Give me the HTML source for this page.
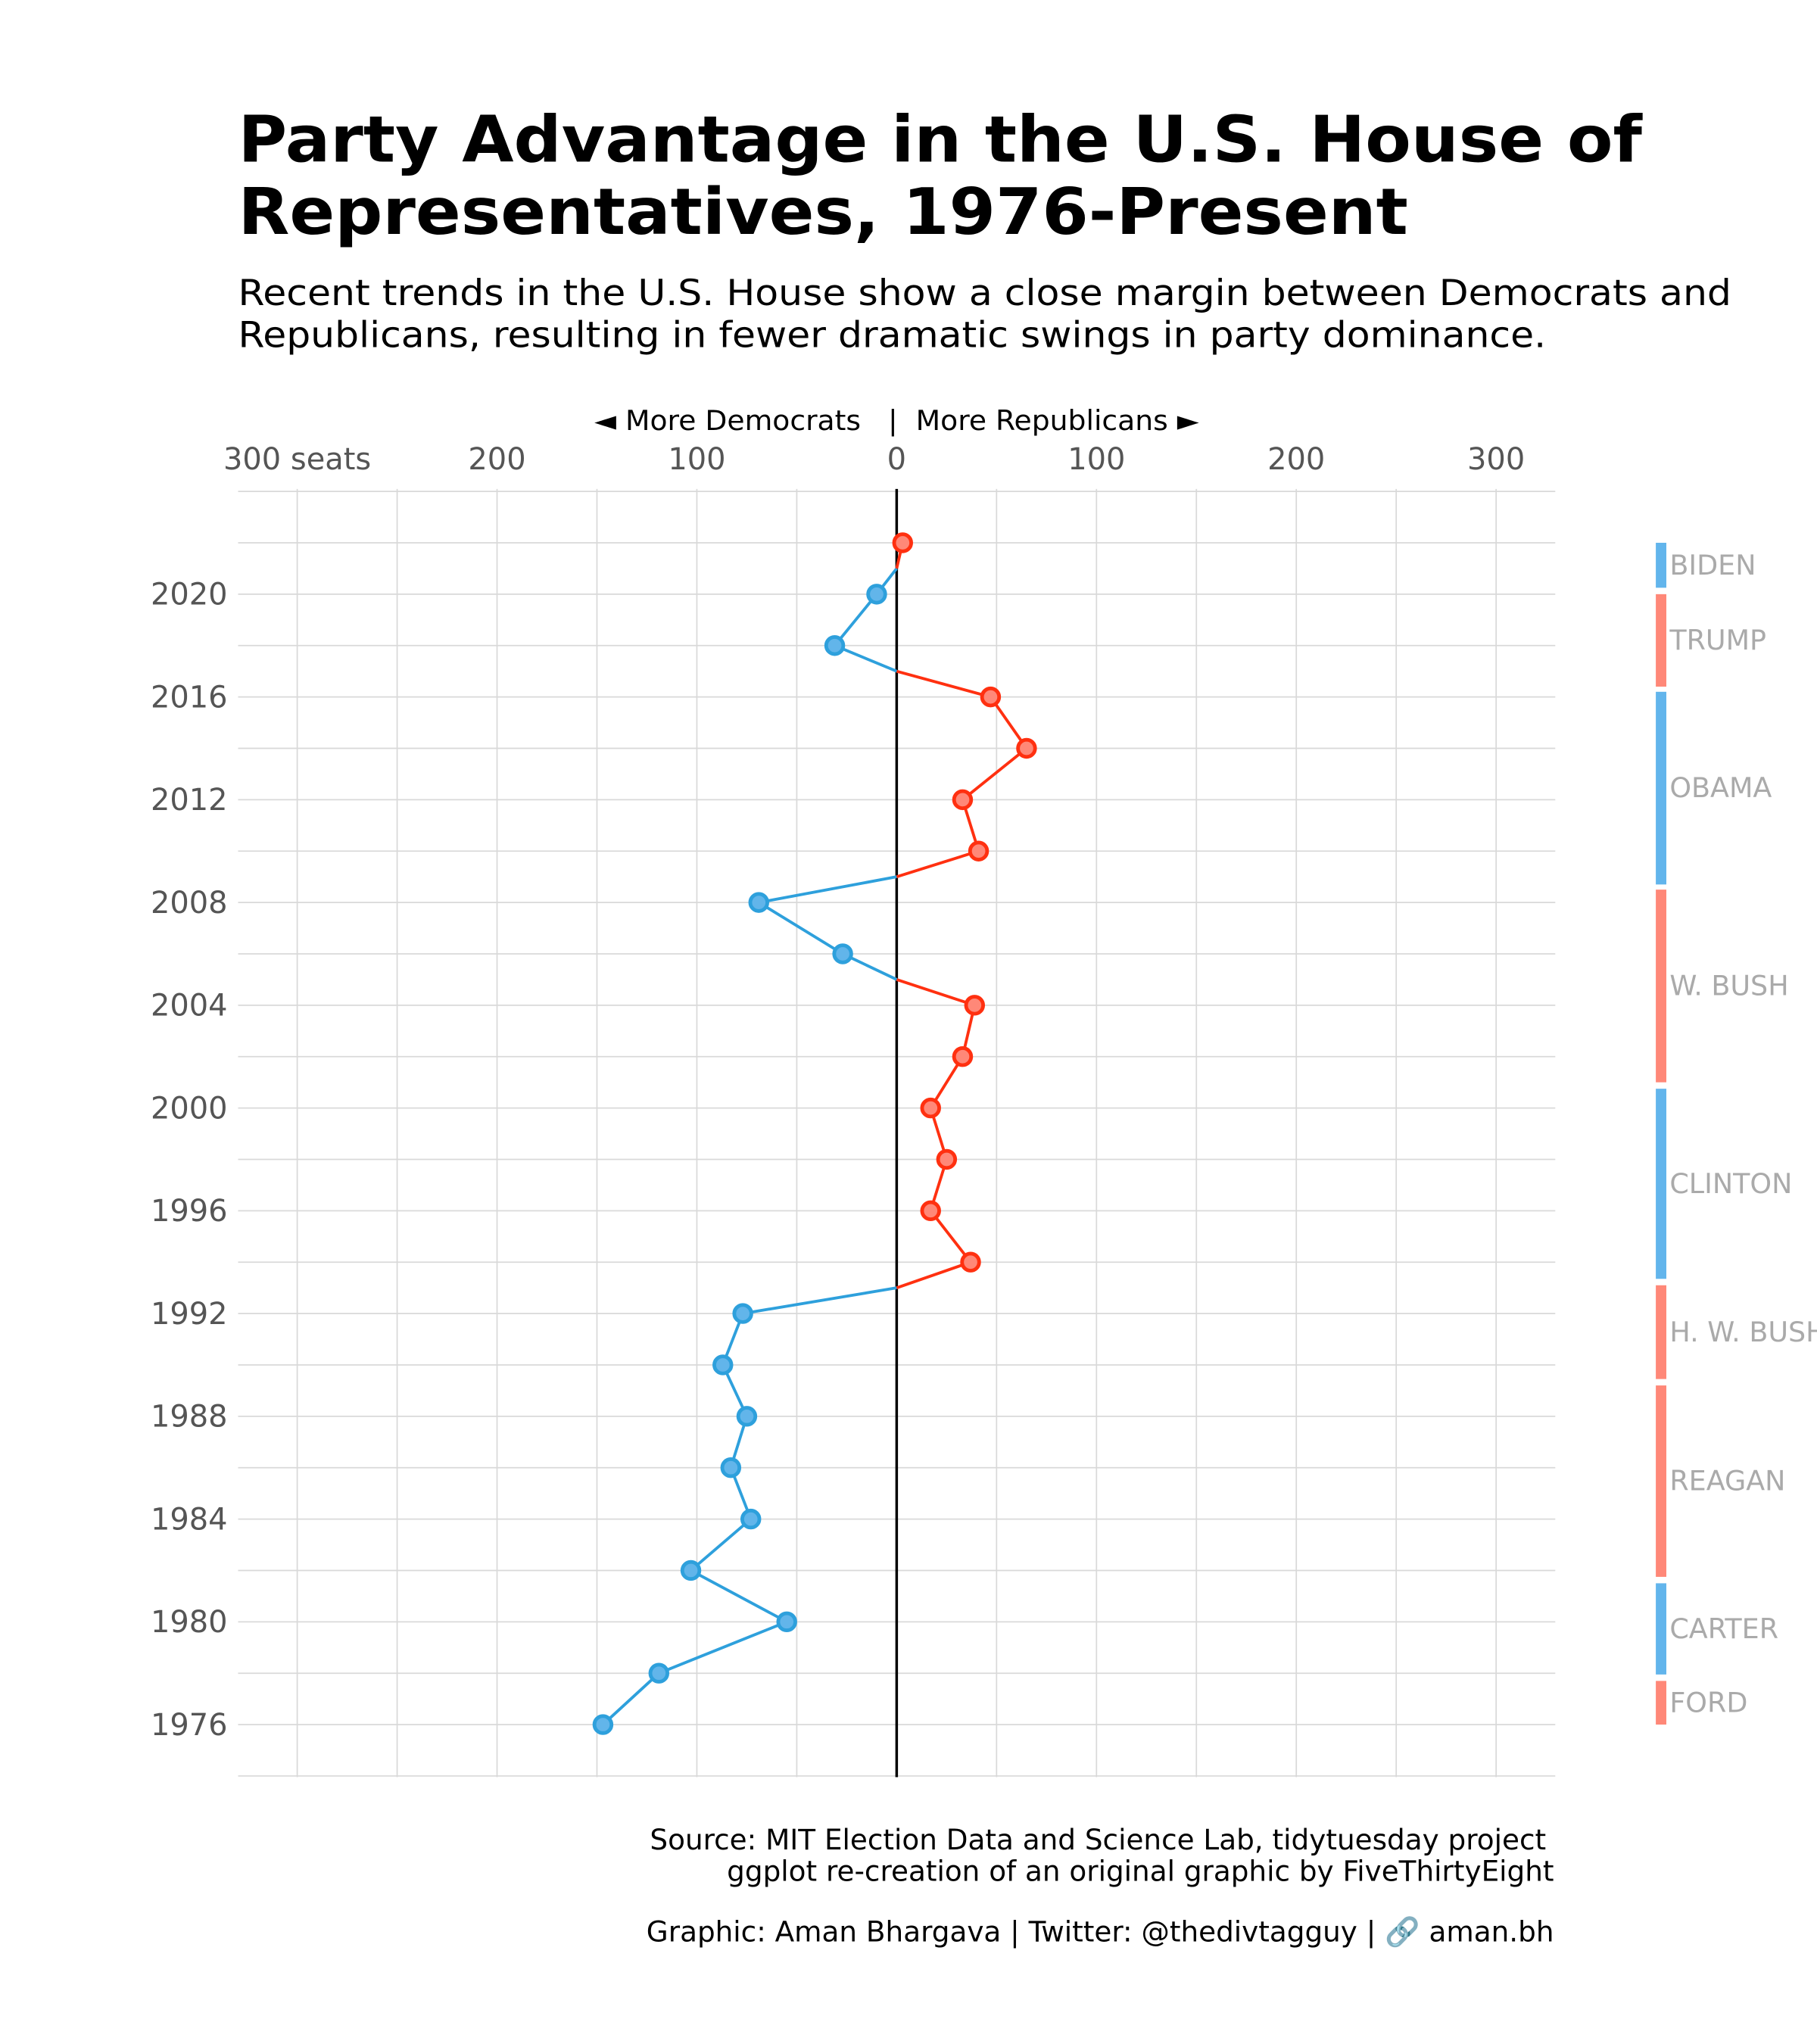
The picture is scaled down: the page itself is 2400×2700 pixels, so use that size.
<!DOCTYPE html>
<html><head><meta charset="utf-8"><style>html,body{margin:0;padding:0;background:#fff}svg{display:block}text{font-family:"DejaVu Sans","Liberation Sans",sans-serif}</style></head>
<body>
<svg id="chart" width="2400" height="2700" viewBox="0 0 1382 1555" xmlns="http://www.w3.org/2000/svg">
<rect width="1382" height="1555" fill="#fff"/>
<text x="181" y="123" font-size="49" font-weight="bold" textLength="1068" lengthAdjust="spacingAndGlyphs">Party Advantage in the U.S. House of</text>
<text x="181" y="178" font-size="49" font-weight="bold" textLength="890" lengthAdjust="spacingAndGlyphs">Representatives, 1976-Present</text>
<text x="181" y="232" font-size="27" textLength="1136" lengthAdjust="spacingAndGlyphs">Recent trends in the U.S. House show a close margin between Democrats and</text>
<text x="181" y="264" font-size="27" textLength="995" lengthAdjust="spacingAndGlyphs">Republicans, resulting in fewer dramatic swings in party dominance.</text>
<text x="452" y="327" font-size="21" textLength="460" lengthAdjust="spacingAndGlyphs" xml:space="preserve">◄ More Democrats   |  More Republicans ►</text>
<g id="grid"></g>
<g id="axes"></g>
<g id="lines"></g>
<g id="points"></g>
<g id="pres"></g>
<text x="1176" y="1407" font-size="21.5" text-anchor="end">Source: MIT Election Data and Science Lab, tidytuesday project</text>
<text x="1182" y="1431" font-size="21.5" text-anchor="end">ggplot re-creation of an original graphic by FiveThirtyEight</text>
<text x="1182" y="1477" font-size="21.5" text-anchor="end">Graphic: Aman Bhargava | Twitter: @thedivtagguy | 🔗 aman.bh</text>
</svg>
<script>
const years = [1976,1978,1980,1982,1984,1986,1988,1990,1992,1994,1996,1998,2000,2002,2004,2006,2008,2010,2012,2014,2016,2018,2020,2022];
const margins = [-147,-119,-55,-103,-73,-83,-75,-87,-77,37,17,25,17,33,39,-27,-69,41,33,65,47,-31,-10,3];
const xTicks = [-300,-200,-100,0,100,200,300];
const xTickLabels = ["300 seats","200","100","0","100","200","300"];
const yTicks = [1976,1980,1984,1988,1992,1996,2000,2004,2008,2012,2016,2020];
const presidents = ["FORD","CARTER","REAGAN","H. W. BUSH","CLINTON","W. BUSH","OBAMA","TRUMP","BIDEN"];
const presStart = [1976,1977.95,1981.75,1989.45,1993.35,2001,2008.7,2016.4,2020.25];
const presEnd = [1977.7,1981.5,1989.2,1993.1,2000.75,2008.5,2016.2,2020,2022];
const presParty = ["R","D","R","R","D","R","D","R","D"];

const NS="http://www.w3.org/2000/svg";
const X0=682, XS=1.52, Y0=1312, YS=19.545;
const x=v=>X0+v*XS, y=yr=>Y0-(yr-1976)*YS;
function mk(tag,attrs,parent){const e=document.createElementNS(NS,tag);for(const k in attrs)e.setAttribute(k,attrs[k]);document.getElementById(parent).appendChild(e);return e;}

for(let v=-300;v<=300;v+=50){const l=mk('line',{x1:x(v),x2:x(v),y1:372,y2:1352,stroke:'#d9d9d9','stroke-width':1},'grid');

}
for(let yr=1974;yr<=2024;yr+=2){const l=mk('line',{x1:181,x2:1183,y1:y(yr),y2:y(yr),stroke:'#d9d9d9','stroke-width':1},'grid');

}
const zl=mk('line',{x1:x(0),x2:x(0),y1:372,y2:1352,stroke:'#000','stroke-width':2},'axes');


xTicks.forEach((v,i)=>{const t=mk('text',{x:x(v),y:357,'font-size':23,fill:'#555','text-anchor':'middle'},'axes');t.textContent=xTickLabels[i];

});
yTicks.forEach(yr=>{const t=mk('text',{x:173,y:y(yr)+8,'font-size':23,fill:'#555','text-anchor':'end'},'axes');t.textContent=yr;

});

const BL='#2ea0dc', RL='#ff3010';
for(let i=0;i<years.length-1;i++){
  const a=margins[i],b=margins[i+1],ya=years[i],yb=years[i+1];
  if((a<0)===(b<0)){
    const l=mk('line',{x1:x(a),y1:y(ya),x2:x(b),y2:y(yb),stroke:a<0?BL:RL,'stroke-width':2.2},'lines');
    
    
  } else {
    const ym=(ya+yb)/2;
    const l1=mk('line',{x1:x(a),y1:y(ya),x2:x(0),y2:y(ym),stroke:a<0?BL:RL,'stroke-width':2.2},'lines');
    
    
    const l2=mk('line',{x1:x(0),y1:y(ym),x2:x(b),y2:y(yb),stroke:b<0?BL:RL,'stroke-width':2.2},'lines');
    
    
  }
}
years.forEach((yr,i)=>{const d=margins[i]<0;
const c=mk('circle',{cx:x(margins[i]),cy:y(yr),r:6.5,fill:d?'#62b5ea':'#ff8878',stroke:d?BL:RL,'stroke-width':2.8},'points');

});

presidents.forEach((p,i)=>{const top=y(presEnd[i]), bot=y(presStart[i]);
const r=mk('rect',{x:1259.5,y:top,width:8,height:bot-top,fill:presParty[i]==='D'?'#62b5ec':'#ff8878'},'pres');


const t=mk('text',{x:1270,y:(top+bot)/2+7,'font-size':21,fill:'#aaa'},'pres');t.textContent=p;

});
</script>
</body></html>
